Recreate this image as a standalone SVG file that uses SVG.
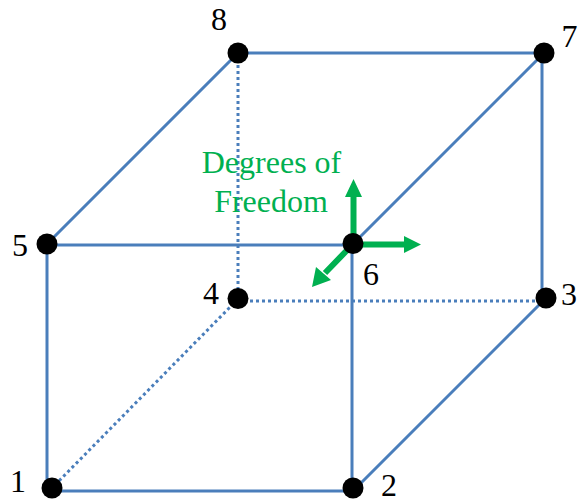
<svg xmlns="http://www.w3.org/2000/svg" width="578" height="503" viewBox="0 0 578 503">
<style>
.e{fill:none;stroke:#4a7ebb;stroke-width:3}
.d{fill:none;stroke:#4a7ebb;stroke-width:3;stroke-dasharray:3 3}
.g{fill:none;stroke:#00b050;stroke-width:6}
.h{fill:#00b050;stroke:none}
.n{fill:#000}
text{font-family:"Liberation Serif","Times New Roman",serif;font-size:32px;fill:#000}
.t{fill:#00b050;text-anchor:middle}
</style>
<rect width="578" height="503" fill="#fff"/>
<g id="connectors">
<path class="d" d="M238 53V299M238 301H546M238 299L52 488"/>
<path class="e" d="M47 244L238 53H544L353 244M47 245H353M47 244V491H353M352 245V491M542 53V298M546 298L353 491"/>
<path class="g" d="M353.500 244V195M353 244.500H406M353 244L325 273"/>
<path class="h" d="M353.500 179L362 197H345ZM421 244.500L404 236V253ZM312 287L331 280L316 267Z"/>
</g>
<g id="node1"><circle class="n" cx="52" cy="488" r="10.500"/><text x="10" y="492">1</text></g>
<g id="node2"><circle class="n" cx="353" cy="488" r="10.500"/><text x="381" y="496">2</text></g>
<g id="node3"><circle class="n" cx="546" cy="298" r="10.500"/><text x="561" y="305">3</text></g>
<g id="node4"><circle class="n" cx="238" cy="298.500" r="10.500"/><text x="203" y="304">4</text></g>
<g id="node5"><circle class="n" cx="47" cy="244" r="10.500"/><text x="12" y="256">5</text></g>
<g id="node6"><circle class="n" cx="353" cy="243.500" r="10.500"/><text x="363" y="285">6</text></g>
<g id="node7"><circle class="n" cx="544" cy="53" r="10.500"/><text x="561.500" y="47">7</text></g>
<g id="node8"><circle class="n" cx="238" cy="53" r="10.500"/><text x="211" y="30">8</text></g>
<g id="label"><text class="t" x="271.500" y="173">Degrees of</text><text class="t" x="271" y="212">Freedom</text></g>
</svg>
